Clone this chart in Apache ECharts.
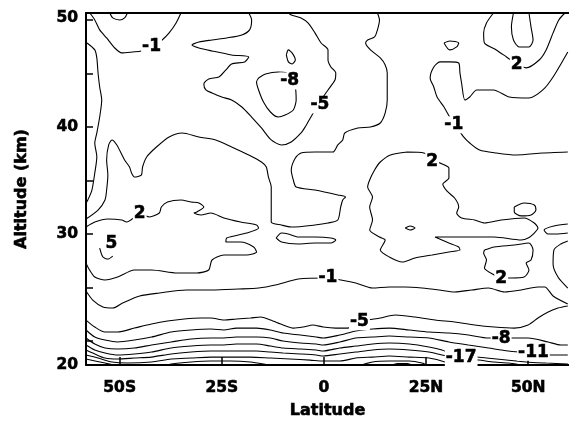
<!DOCTYPE html>
<html><head><meta charset="utf-8">
<script src="https://cdn.jsdelivr.net/npm/echarts@6/dist/echarts.min.js"></script>
<style>html,body{margin:0;padding:0;background:#fff}#c{width:569px;height:428px}</style>
</head><body><div id="c"></div>
<script>
// Axis ticks / labels
const xTicks = [-50, -25, 0, 25, 50];
const xTickLabels = ['50S', '25S', '0', '25N', '50N'];
const yTicks = [20, 25, 30, 35, 40, 45, 50];
const yLabelAt = [17.76, 30, 40, 50.2];
const yLabelText = ['20', '30', '40', '50'];

// Contour lines, [latitude, altitude km]
const m1TopLeft = [[-57.3,50.65],[-56.1,50.0],[-54.9,49.07],[-53.2,48.32],[-51.2,47.38],[-49.5,46.92],[-46.8,47.01],[-44.7,47.10],[-42.2,47.48],[-39.6,48.13],[-37.9,48.79],[-36.2,49.72],[-35.0,50.65]];
const topBumpLeft = [[-52.4,50.65],[-51.7,50.19],[-50.0,50.0],[-48.8,50.19],[-48.1,50.65]];
const leftEdge = [[-58.0,47.85],[-56.1,47.2],[-55.6,46.45],[-55.3,45.05],[-54.9,43.74],[-54.4,42.52],[-54.9,40.93],[-55.6,39.44],[-56.1,38.5],[-55.6,37.2],[-56.1,35.7],[-56.8,34.11],[-57.8,33.18],[-58.25,32.9]];
const m1Big = [[-58.25,31.40],[-55.3,32.24],[-53.6,33.18],[-53.2,34.11],[-52.9,35.51],[-53.2,36.92],[-52.7,38.32],[-51.9,38.79],[-50.7,38.32],[-48.8,36.92],[-47.6,36.26],[-47.1,35.70],[-46.4,35.33],[-44.7,35.51],[-44.4,36.26],[-43.4,37.20],[-41.0,38.13],[-37.9,39.07],[-34.7,39.44],[-30.6,39.07],[-26.5,38.79],[-22.6,38.13],[-18.4,37.38],[-15.3,36.73],[-14.1,36.26],[-13.6,35.33],[-12.9,34.39],[-12.9,32.90],[-12.9,31.12],[-10.4,30.84],[-8.0,30.65],[-2.2,30.84],[1.0,31.03],[3.4,31.31],[4.1,32.52],[4.6,33.18],[5.3,33.46],[3.4,33.65],[-2.2,34.11],[-6.8,34.39],[-7.5,35.05],[-8.0,35.98],[-7.0,37.10],[-5.6,37.57],[-2.2,37.66],[2.2,37.66],[3.4,38.32],[4.6,38.79],[5.1,39.44],[8.3,39.91],[11.4,40.0],[13.8,40.37],[15.0,41.31],[15.5,42.52],[15.5,43.74],[15.5,45.05],[15.0,45.80],[13.8,46.45],[11.4,47.20],[10.2,47.85],[10.7,48.13],[12.4,48.41],[13.1,49.07],[13.6,50.0],[13.1,50.65]];
const m5Top = [[-18.4,50.65],[-17.7,50.0],[-18.2,49.07],[-20.1,48.60],[-23.8,48.32],[-27.4,48.13],[-30.6,47.94],[-32.3,47.66],[-30.6,47.38],[-27.4,47.10],[-22.6,46.73],[-18.4,46.54],[-19.4,46.08],[-22.6,45.89],[-24.0,45.33],[-25.7,44.67],[-28.2,44.49],[-29.4,44.02],[-28.9,43.46],[-27.4,43.18],[-25.0,42.80],[-22.6,42.52],[-20.1,41.87],[-17.7,40.93],[-15.3,39.91],[-12.9,38.79],[-10.4,38.32],[-8.0,38.60],[-5.6,39.44],[-4.6,40.0],[-3.2,40.93],[-2.2,41.59],[-0.7,42.52],[1.0,43.46],[2.7,44.39],[2.9,45.05],[1.7,45.61],[1.0,46.26],[1.0,47.20],[-0.7,47.85],[-2.2,48.79],[-3.9,49.72],[-5.6,50.19],[-8.0,50.47],[-8.7,50.65]];
const m8Loop = [[-16.0,44.58],[-14.3,44.95],[-11.2,45.14],[-9.2,45.05],[-7.8,44.58],[-7.0,43.74],[-6.8,42.52],[-7.5,41.59],[-9.5,41.12],[-11.2,40.93],[-13.1,41.40],[-14.8,42.34],[-16.0,43.46],[-16.5,44.21],[-16.0,44.58]];
const smallLoopTop = [[-9.2,46.73],[-8.7,47.20],[-7.8,46.92],[-7.0,46.26],[-7.8,45.89],[-8.7,46.08],[-9.2,46.73]];
const m1Right = [[59.7,47.01],[56.1,44.67],[53.6,43.46],[50.2,42.71],[45.4,42.80],[41.5,43.46],[37.4,43.46],[35.7,42.80],[34.5,42.52],[33.7,44.11],[33.3,45.05],[33.0,45.98],[30.8,46.08],[28.4,46.08],[26.9,45.61],[26.0,44.58],[26.9,43.74],[27.7,42.80],[29.4,41.87],[30.8,40.93],[32.0,40.28],[34.2,39.07],[35.7,38.50],[38.1,37.85],[42.2,37.57],[47.1,37.38],[53.6,37.57],[59.7,37.66]];
const triLoop = [[29.4,47.85],[30.8,47.20],[32.5,47.48],[33.0,47.85],[30.8,48.04],[29.4,47.85]];
const p2TopRight = [[41.5,50.65],[39.8,49.72],[39.1,48.79],[39.3,47.85],[42.2,47.20],[44.7,46.54],[46.8,45.98],[49.5,45.52],[52.7,46.26],[54.4,47.20],[56.1,48.79],[57.5,50.0],[59.0,50.65]];
const p5TopRight = [[46.4,50.65],[45.9,49.35],[46.4,48.13],[47.8,47.48],[50.2,47.48],[51.2,48.13],[50.7,49.35],[50.2,50.65]];
const p2Left = [[-58.25,30.65],[-56.1,31.12],[-52.9,31.40],[-49.5,31.31],[-48.3,31.12],[-44.9,31.87],[-42.7,31.59],[-40.3,31.96],[-39.8,32.52],[-38.3,32.99],[-35.0,33.18],[-32.5,32.99],[-30.6,32.90],[-29.4,32.52],[-31.1,32.06],[-31.8,31.96],[-30.1,31.78],[-27.7,31.96],[-24.5,31.50],[-20.4,31.12],[-16.5,30.84],[-16.0,30.56],[-18.9,30.09],[-23.8,29.63],[-24.0,29.25],[-20.4,29.25],[-17.2,28.79],[-16.5,28.32],[-18.9,28.04],[-24.5,28.04],[-27.4,27.57],[-28.2,26.64],[-31.1,26.36],[-35.9,26.36],[-42.2,26.64],[-46.4,26.64],[-50.5,25.98],[-53.6,25.70],[-56.1,25.98],[-57.8,26.91],[-58.25,27.29]];
const p5Left = [[-54.9,28.69],[-54.1,27.85],[-52.9,27.66],[-51.7,27.94]];
const p2Mid = [[-11.7,29.63],[-10.4,30.09],[-8.7,30.0],[-6.3,29.72],[-2.2,29.72],[1.7,29.63],[2.9,29.44],[1.7,29.16],[-2.2,29.16],[-6.3,29.07],[-10.4,29.25],[-11.7,29.63]];
const p2Right = [[20.4,37.66],[24.5,37.57],[26.5,36.92],[28.4,36.64],[30.6,36.17],[30.6,35.23],[29.1,34.67],[30.1,34.02],[32.0,33.36],[33.0,32.52],[32.5,31.96],[33.7,31.50],[36.9,31.31],[39.3,31.03],[43.4,31.31],[49.0,31.50],[51.5,31.03],[52.4,30.56],[51.5,30.09],[50.0,29.63],[48.3,29.44],[41.7,29.72],[33.7,29.72],[27.2,29.72],[30.6,29.16],[33.0,28.79],[33.3,28.50],[30.6,28.32],[26.5,28.04],[22.3,27.76],[19.2,27.38],[16.0,27.85],[13.8,28.50],[15.0,29.44],[13.6,29.72],[11.2,30.37],[11.9,31.31],[11.2,32.52],[11.9,33.46],[10.7,34.39],[11.2,35.05],[12.4,35.98],[13.8,36.73],[16.3,37.38],[20.4,37.66]];
const tinyLoop = [[19.9,30.56],[21.1,30.75],[22.3,30.56],[21.1,30.37],[19.9,30.56]];
const smallLoopRight = [[46.6,32.52],[49.0,32.90],[51.5,32.71],[51.9,32.24],[50.7,31.78],[48.3,31.69],[46.6,32.06],[46.6,32.52]];
const edgeLoopRight = [[59.7,30.93],[56.3,30.75],[53.9,30.37],[54.9,30.0],[56.8,30.0],[59.7,30.09]];
const p2LowRight = [[39.3,28.50],[41.7,28.79],[46.6,28.97],[50.2,29.16],[51.2,28.50],[50.7,27.57],[49.5,27.29],[50.2,26.64],[49.0,25.98],[45.9,25.89],[43.4,25.89],[41.7,26.17],[39.3,26.82],[39.8,27.57],[39.1,28.22],[39.3,28.50]];
const arcRight = [[59.7,29.35],[58.0,29.07],[56.3,28.50],[56.1,27.19],[57.3,25.98],[59.7,24.95]];
const m1Low = [[-58.25,24.67],[-56.6,23.83],[-54.1,23.18],[-51.7,23.08],[-49.3,23.55],[-45.1,24.21],[-40.3,24.49],[-33.7,24.77],[-27.4,24.77],[-20.9,24.86],[-16.0,24.95],[-11.9,25.23],[-6.3,25.79],[1.0,25.89],[4.1,25.70],[7.8,25.42],[11.9,24.95],[16.0,25.05],[19.9,25.05],[24.0,24.95],[28.2,24.77],[32.0,24.58],[36.2,24.77],[40.3,24.95],[44.2,24.58],[48.3,24.77],[52.4,25.05],[54.1,25.05],[56.1,24.21],[59.7,23.46]];
const m5Low = [[-58.25,21.96],[-56.1,21.31],[-53.6,20.84],[-50.5,20.84],[-46.4,21.21],[-42.2,21.59],[-38.3,21.87],[-34.2,22.06],[-30.1,22.15],[-27.7,22.15],[-24.5,21.96],[-21.4,22.06],[-18.0,22.15],[-15.5,22.24],[-13.1,21.96],[-10.0,21.50],[-7.5,21.21],[-5.1,21.31],[-2.7,21.50],[-0.2,21.31],[2.9,21.21],[5.8,21.21],[8.7,21.78],[13.8,22.15],[17.5,22.43],[22.3,22.24],[27.2,21.96],[32.0,21.78],[36.9,21.50],[41.7,21.31],[46.6,21.21],[50.0,21.50],[52.4,22.15],[54.9,22.71],[57.3,23.08],[59.7,23.27]];
const m8Low = [[-58.25,21.03],[-56.1,20.37],[-53.6,20.09],[-50.5,19.91],[-46.4,20.09],[-42.2,20.37],[-37.4,20.84],[-32.5,21.03],[-27.7,21.12],[-24.5,21.03],[-21.4,21.21],[-16.5,21.21],[-13.1,21.03],[-10.0,20.75],[-5.8,20.56],[-1.9,20.37],[-0.2,20.28],[3.9,20.56],[7.8,20.93],[11.9,21.12],[16.0,21.21],[20.9,21.03],[25.7,20.84],[30.6,20.75],[35.4,20.56],[40.3,20.28],[43.4,20.28],[46.6,20.28],[50.0,20.28],[54.9,19.91],[58.0,19.63],[59.7,19.63]];
const m11Low = [[-58.25,20.28],[-56.1,19.72],[-53.6,19.35],[-50.5,19.25],[-46.4,19.35],[-42.2,19.63],[-37.4,19.91],[-32.5,20.19],[-27.7,20.28],[-24.5,20.28],[-21.4,20.37],[-16.5,20.37],[-13.1,20.28],[-10.0,20.0],[-5.8,19.81],[-1.9,19.72],[-0.2,19.63],[3.9,19.91],[7.8,20.28],[11.9,20.37],[16.0,20.47],[20.9,20.37],[25.7,20.28],[30.6,19.91],[35.4,19.63],[40.3,19.35],[45.1,19.07],[48.3,18.97],[51.2,18.97],[55.6,18.69],[59.7,18.69]];
const m14Low = [[-58.25,19.63],[-56.1,19.16],[-53.6,18.88],[-50.5,18.69],[-46.4,18.79],[-42.2,18.97],[-37.4,19.35],[-32.5,19.53],[-27.7,19.63],[-24.5,19.63],[-21.4,19.72],[-16.5,19.72],[-13.1,19.53],[-10.0,19.35],[-5.8,19.25],[-1.9,19.16],[-0.2,19.07],[3.9,19.35],[7.8,19.53],[11.9,19.72],[16.0,19.81],[20.9,19.72],[25.7,19.44],[28.9,19.16],[31.3,18.79],[35.0,18.60],[39.8,18.41],[44.7,18.22],[49.5,18.04],[54.4,17.94],[59.7,17.85]];
const m17Low = [[-58.25,19.16],[-56.1,18.79],[-53.6,18.41],[-50.5,18.32],[-46.4,18.41],[-42.2,18.50],[-37.4,18.79],[-32.5,18.97],[-27.7,19.07],[-24.5,19.07],[-21.4,19.07],[-16.5,19.07],[-13.1,18.97],[-10.0,18.88],[-5.8,18.79],[-1.9,18.69],[-0.2,18.60],[3.9,18.79],[7.8,18.97],[11.9,19.16],[16.0,19.25],[20.9,19.16],[25.7,18.97],[28.9,18.69],[33.0,18.41],[37.9,18.22],[41.7,18.04],[45.1,17.94],[48.3,17.76],[51.9,17.48]];
const m20Low = [[-58.25,18.69],[-55.3,18.41],[-51.9,18.04],[-48.1,17.94],[-42.2,18.04],[-37.4,18.32],[-32.5,18.41],[-27.7,18.50],[-22.8,18.50],[-18.0,18.50],[-13.1,18.41],[-8.3,18.32],[-3.4,18.22],[-0.2,18.13],[3.9,18.13],[7.8,18.41],[11.9,18.50],[16.0,18.60],[20.9,18.50],[25.7,18.41],[29.6,18.04],[32.0,17.57]];
const m23a = [[-58.25,18.32],[-53.6,17.94],[-50.5,17.66]];
const m23b = [[-39.1,17.66],[-37.4,17.85],[-32.5,18.04],[-27.7,18.13],[-22.8,18.13],[-18.0,18.04],[-14.8,17.85],[-12.4,17.66]];
const m23c = [[8.3,17.66],[11.9,18.04],[16.0,18.13],[20.9,18.13],[24.0,17.94],[25.7,17.66]];
const m26 = [[16.0,17.66],[18.0,17.9],[20.4,17.9],[22.3,17.66]];

// Contour labels: [latitude, altitude, text]
const contourLabels = [
  [-42.2,47.48,'-1'], [-8.4,44.3,'-8'], [-1.0,42.06,'-5'], [31.8,40.2,'-1'],
  [47.2,45.85,'2'], [26.5,36.8,'2'], [-45.1,31.9,'2'], [-52.0,29.15,'5'],
  [1.0,25.89,'-1'], [43.4,25.87,'2'], [8.7,21.8,'-5'], [43.4,20.27,'-8'],
  [51.3,18.95,'-11'], [33.6,18.42,'-17']
];

const contours = [m1TopLeft, topBumpLeft, leftEdge, m1Big, m5Top, m8Loop, smallLoopTop, m1Right, triLoop,
  p2TopRight, p5TopRight, p2Left, p5Left, p2Mid, p2Right, tinyLoop, smallLoopRight, edgeLoopRight,
  p2LowRight, arcRight, m1Low, m5Low, m8Low, m11Low, m14Low, m17Low, m20Low, m23a, m23b, m23c, m26];

const FONT = '"DejaVu Sans", Arial, sans-serif';
const heavy = {color: '#000', fontFamily: FONT, fontWeight: 'bold', textBorderColor: '#000', textBorderWidth: 0.6, opacity: 1};
const chart = echarts.init(document.getElementById('c'), null, {renderer: 'canvas'});
const series = contours.map(c => ({
  type: 'line', data: c, showSymbol: false, symbol: 'none', smooth: 0.25, clip: true,
  lineStyle: {color: '#000', width: 1.1}, silent: true, z: 2
}));
series.push({
  type: 'scatter', data: contourLabels.map(d => ({value: [d[0], d[1]], name: d[2]})),
  symbolSize: 1, itemStyle: {color: '#fff', opacity: 1}, z: 10, silent: true,
  label: Object.assign({show: true, position: 'inside', formatter: '{b}', fontSize: 17,
    backgroundColor: '#fff', padding: [0, 1]}, heavy)
});

chart.setOption({
  animation: false,
  backgroundColor: '#fff',
  grid: {left: 86, top: 13, width: 487, height: 352, containLabel: false},
  xAxis: [{
    type: 'value', min: -58.25, max: 60, position: 'bottom',
    splitLine: {show: false},
    axisLine: {show: true, onZero: false, lineStyle: {color: '#000', width: 2}},
    axisTick: {show: true, inside: true, length: 8, customValues: xTicks, lineStyle: {color: '#000', width: 1.5}},
    axisLabel: Object.assign({show: true, customValues: xTicks, margin: 15, fontSize: 15.5,
      formatter: v => xTickLabels[xTicks.indexOf(v)]}, heavy),
    name: 'Latitude', nameLocation: 'middle', nameGap: 38,
    nameTextStyle: Object.assign({fontSize: 16}, heavy)
  }, {
    type: 'value', min: -58.25, max: 60, position: 'top',
    splitLine: {show: false}, axisTick: {show: false}, axisLabel: {show: false},
    axisLine: {show: true, onZero: false, lineStyle: {color: '#000', width: 2}}
  }],
  yAxis: [{
    type: 'value', min: 17.76, max: 50.65,
    splitLine: {show: false},
    axisLine: {show: true, onZero: false, lineStyle: {color: '#000', width: 2}},
    axisTick: {show: true, inside: true, length: 7, customValues: yTicks, lineStyle: {color: '#000', width: 1.5}},
    axisLabel: Object.assign({show: true, customValues: yLabelAt, margin: 8, fontSize: 15.5,
      formatter: v => {
        let best = 0;
        yLabelAt.forEach((p, i) => { if (Math.abs(p - v) < Math.abs(yLabelAt[best] - v)) best = i; });
        return yLabelText[best];
      }}, heavy),
    name: 'Altitude (km)', nameLocation: 'middle', nameGap: 56, nameRotate: 90,
    nameTextStyle: Object.assign({fontSize: 16}, heavy)
  }],
  series: series
});
</script></body></html>
